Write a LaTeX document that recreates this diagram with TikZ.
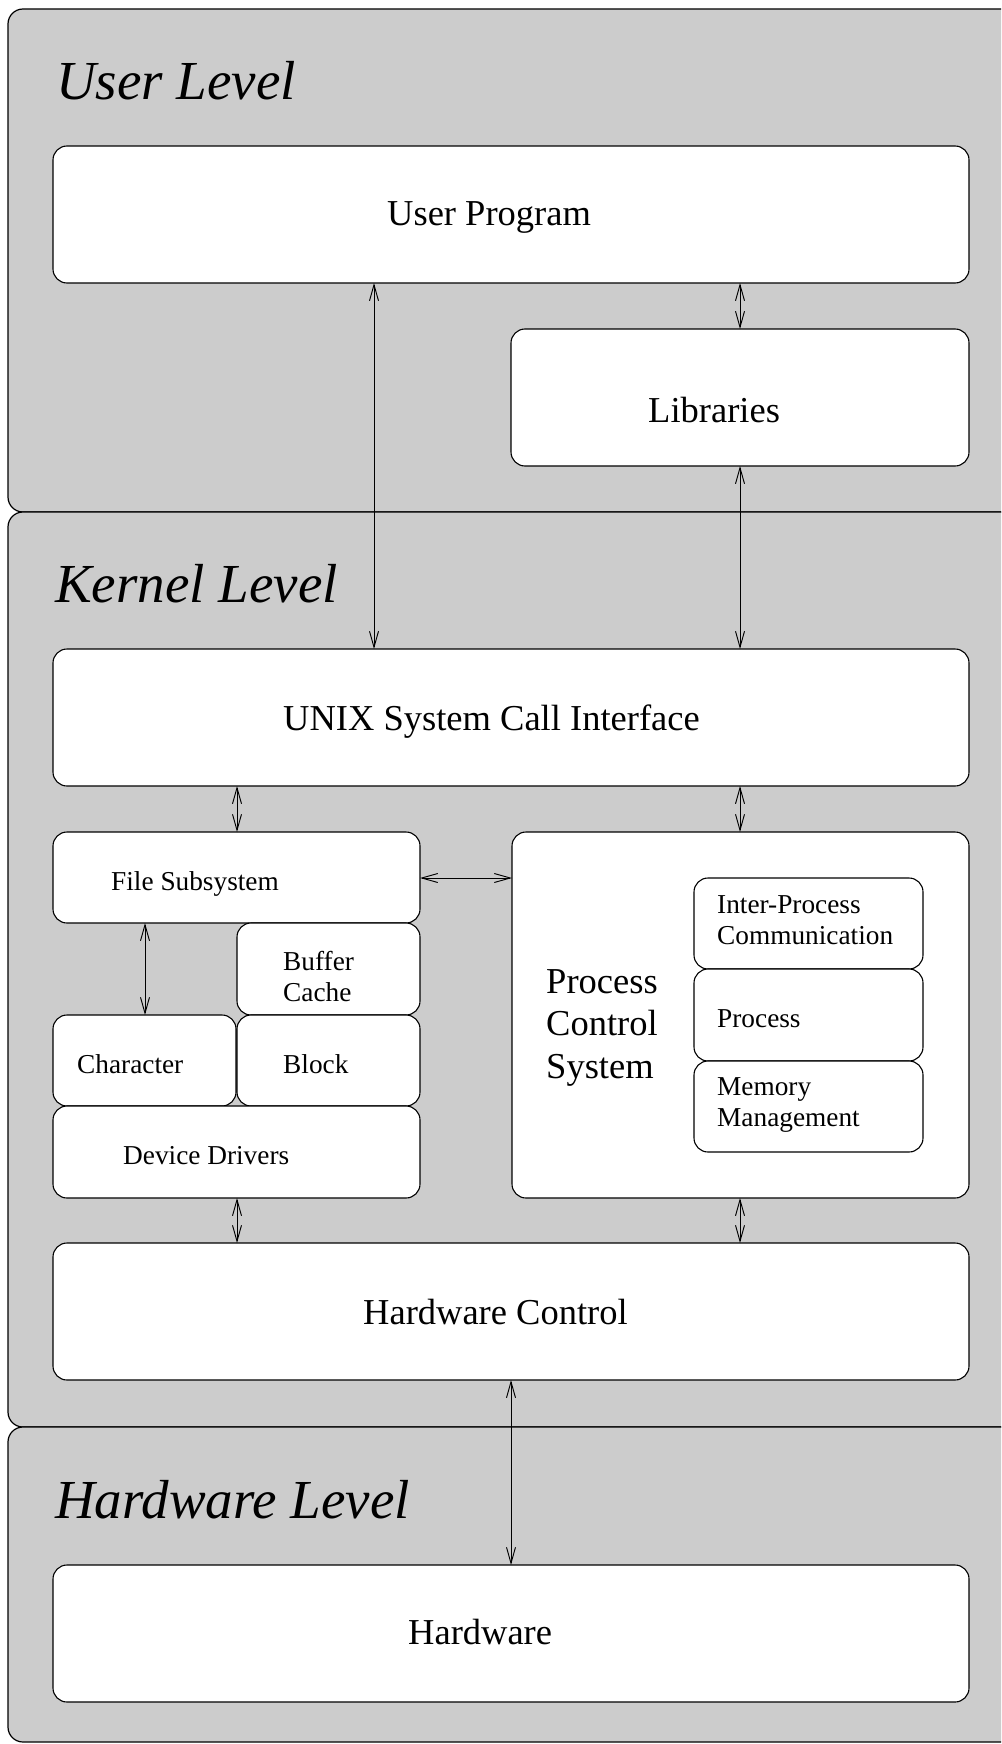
\documentclass[tikz,border=0pt]{standalone}
\usepackage{fontspec}
\setmainfont{Liberation Serif}
\usetikzlibrary{arrows.meta}
\definecolor{panelgray}{gray}{0.8}

% multi-line label whose reference point is the first baseline
\newcommand{\linesL}[1]{\begin{tabular}[t]{@{}l@{}}#1\end{tabular}}

\begin{document}
\begin{tikzpicture}[x=1pt,y=-1pt,
  panel/.style={draw=black, fill=panelgray, line width=1.2pt, rounded corners=15pt},
  box/.style={draw=black, fill=white, line width=1.1pt, rounded corners=14pt,
              inner sep=0pt, outer sep=0pt, anchor=north west},
  levellbl/.style={anchor=base west, inner sep=0pt, font=\fontsize{55}{60}\selectfont\itshape},
  biglbl/.style={anchor=base west, inner sep=0pt, font=\fontsize{36.5}{42.7}\selectfont},
  smalllbl/.style={anchor=base west, inner sep=0pt, font=\fontsize{27.3}{31.5}\selectfont},
  darr/.style={line width=0.95pt, {Straight Barb[length=16pt,width=9pt]}-{Straight Barb[length=16pt,width=9pt]}}
]
\path[use as bounding box] (0,0) rectangle (1001,1744);
\clip (0,0) rectangle (1001,1744);
\fill[white] (0,0) rectangle (1001,1744);

% level panels (running past the right edge)
\draw[panel] (8,9) rectangle (1040,512);
\draw[panel] (8,512) rectangle (1040,1427);
\draw[panel] (8,1427) rectangle (1040,1742);

\node[levellbl] (luser) at (56,100) {User Level};
\node[levellbl] (lkern) at (55,602) {Kernel Level};
\node[levellbl] (lhw) at (55,1518) {Hardware Level};

% user level
\node[box, minimum width=916pt, minimum height=137pt] (up) at (53,146) {};
\node[box, minimum width=458pt, minimum height=137pt] (lib) at (511,329) {};
\node[biglbl] (tup) at (387,226) {User Program};
\node[biglbl] (tlib) at (648,422) {Libraries};

% kernel level
\node[box, minimum width=916pt, minimum height=137pt] (unix) at (53,649) {};
\node[biglbl] (tunix) at (283,730) {UNIX System Call Interface};

\node[box, minimum width=367pt, minimum height=91pt] (fs) at (53,832) {};
\node[box, minimum width=183pt, minimum height=92pt] (buf) at (237,923) {};
\node[box, minimum width=183pt, minimum height=91pt] (chr) at (53,1015) {};
\node[box, minimum width=183pt, minimum height=91pt] (blk) at (237,1015) {};
\node[box, minimum width=367pt, minimum height=92pt] (dd) at (53,1106) {};
\node[smalllbl] (tfs) at (111,890) {File Subsystem};
\node[smalllbl] (tbuf) at (283,970) {\linesL{Buffer\\Cache}};
\node[smalllbl] (tchr) at (77,1073) {Character};
\node[smalllbl] (tblk) at (283,1073) {Block};
\node[smalllbl] (tdd) at (123,1164) {Device Drivers};

\node[box, minimum width=457pt, minimum height=366pt] (pcs) at (512,832) {};
\node[biglbl] (tpcs) at (546,993) {\linesL{Process\\Control\\System}};
\node[box, minimum width=229pt, minimum height=91pt] (ipc) at (694,878) {};
\node[box, minimum width=229pt, minimum height=92pt] (prc) at (694,969) {};
\node[box, minimum width=229pt, minimum height=91pt] (mem) at (694,1061) {};
\node[smalllbl] (tipc) at (717,913) {\linesL{Inter-Process\\Communication}};
\node[smalllbl] (tprc) at (717,1027) {Process};
\node[smalllbl] (tmem) at (717,1095) {\linesL{Memory\\Management}};

\node[box, minimum width=916pt, minimum height=137pt] (hc) at (53,1243) {};
\node[biglbl] (thc) at (363,1324) {Hardware Control};

% hardware level
\node[box, minimum width=916pt, minimum height=137pt] (hw) at (53,1565) {};
\node[biglbl] (thw) at (408,1644) {Hardware};

% connector columns and row
\coordinate (xa) at (374,0);
\coordinate (xb) at (740,0);
\coordinate (xc) at (237,0);
\coordinate (xd) at (145,0);
\coordinate (xe) at (511,0);
\coordinate (yh) at (0,878);

\draw[darr] (up.south -| xa) -- (unix.north -| xa);
\draw[darr] (up.south -| xb) -- (lib.north -| xb);
\draw[darr] (lib.south -| xb) -- (unix.north -| xb);
\draw[darr] (unix.south -| xc) -- (fs.north -| xc);
\draw[darr] (unix.south -| xb) -- (pcs.north -| xb);
\draw[darr] (fs.east |- yh) -- (pcs.west |- yh);
\draw[darr] (fs.south -| xd) -- (chr.north -| xd);
\draw[darr] (dd.south -| xc) -- (hc.north -| xc);
\draw[darr] (pcs.south -| xb) -- (hc.north -| xb);
\draw[darr] (hc.south -| xe) -- (hw.north -| xe);
\end{tikzpicture}
\end{document}
